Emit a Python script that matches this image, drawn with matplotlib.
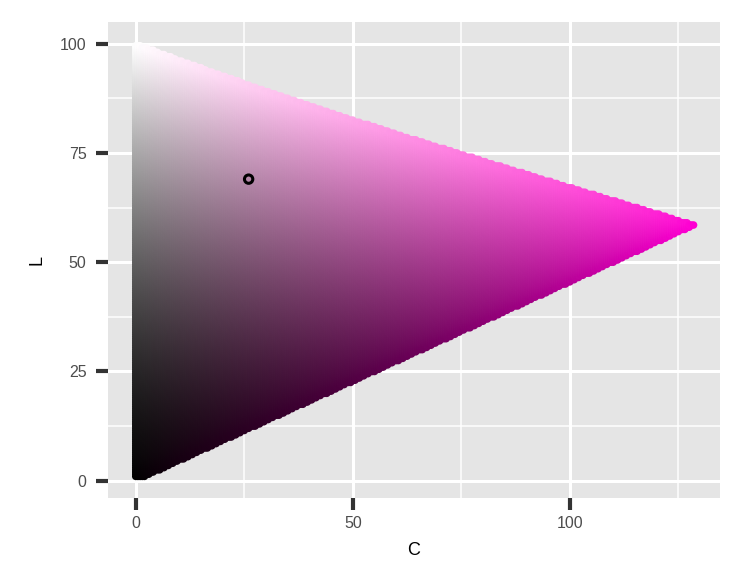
import numpy as np
import matplotlib
matplotlib.use("Agg")
import matplotlib.pyplot as plt

# ---- data ----
hue = 320.0                      # fixed HCL hue of the slice
lum_range = [1, 100]             # luminance grid range
chroma_range = [0, 135]          # chroma grid range
grid_step = 0.5
sel_C = [26]                     # selected colour
sel_L = [69]
x_ticks = [0, 50, 100]
y_ticks = [0, 25, 50, 75, 100]
x_minor = [25, 75, 125]
y_minor = [12.5, 37.5, 62.5, 87.5]
display_gamma = 1.3              # the reference renders mid-tones darker


def hcl_to_rgb(L, C, H):
    L = np.asarray(L, float); C = np.asarray(C, float)
    h = np.deg2rad(H)
    u = C * np.cos(h); v = C * np.sin(h)
    Xn, Yn, Zn = 95.047, 100.0, 108.883
    un = 4 * Xn / (Xn + 15 * Yn + 3 * Zn)
    vn = 9 * Yn / (Xn + 15 * Yn + 3 * Zn)
    Y = np.where(L > 8, Yn * ((L + 16) / 116) ** 3, Yn * L / 903.2963)
    up = u / (13 * L) + un
    vp = v / (13 * L) + vn
    X = 9.0 * Y * up / (4 * vp)
    Z = -X / 3 - 5 * Y + 3 * Y / vp
    X, Y, Z = X / 100, Y / 100, Z / 100
    r = 3.240479 * X - 1.537150 * Y - 0.498535 * Z
    g = -0.969256 * X + 1.875992 * Y + 0.041556 * Z
    b = 0.055648 * X - 0.204043 * Y + 1.057311 * Z
    return np.stack([r, g, b], axis=-1)


def gamma(c):
    c = np.clip(c, 0, 1)
    return np.where(c <= 0.0031308, 12.92 * c, 1.055 * c ** (1 / 2.4) - 0.055)


Lg, Cg = np.meshgrid(np.arange(lum_range[0], lum_range[1] + 1e-9, grid_step),
                     np.arange(chroma_range[0], chroma_range[1] + 1e-9, grid_step))
Lg = Lg.ravel(); Cg = Cg.ravel()
lin = hcl_to_rgb(Lg, Cg, hue)
tol = 1e-6
ok = np.all((lin >= -tol) & (lin <= 1 + tol), axis=1)
Lg, Cg, lin = Lg[ok], Cg[ok], lin[ok]
cols = np.clip(gamma(lin), 0, 1) ** display_gamma

fig = plt.figure(figsize=(7.5, 5.88), dpi=100)
ax = fig.add_axes([108 / 750, 1 - 498 / 588, (720 - 108) / 750, (498 - 22) / 588])
ax.set_facecolor("#E5E5E5")
for s in ax.spines.values():
    s.set_visible(False)

for xm in x_minor:
    ax.axvline(xm, color="white", lw=1.1, zorder=0)
for ym in y_minor:
    ax.axhline(ym, color="white", lw=1.1, zorder=0)
for xt in x_ticks:
    ax.axvline(xt, color="white", lw=2.2, zorder=0)
for yt in y_ticks:
    ax.axhline(yt, color="white", lw=2.2, zorder=0)

ax.scatter(Cg, Lg, c=cols, s=30, linewidths=0, marker="o", rasterized=True, zorder=2)

ax.scatter(sel_C, sel_L, s=36, facecolors="none", edgecolors="black", linewidths=2.2, zorder=3)

ax.set_xlim(-6.4, 134.6)
ax.set_ylim(-3.95, 104.95)
ax.set_xticks(x_ticks)
ax.set_yticks(y_ticks)
ax.set_xticklabels([str(t) for t in x_ticks])
ax.set_yticklabels([str(t) for t in y_ticks])
ax.tick_params(axis="both", length=8.5, width=3, color="#333333",
               labelsize=11.5, labelcolor="#4D4D4D")
ax.tick_params(axis="x", pad=4.5)
ax.tick_params(axis="y", pad=7)
for lab in ax.get_xticklabels() + ax.get_yticklabels():
    lab.set_family("Liberation Sans")

ax.set_xlabel("C", fontsize=13, family="Liberation Sans", color="black", labelpad=8)
ax.set_ylabel("L", fontsize=13, family="Liberation Sans", color="black", labelpad=10)

fig.savefig("out.png", dpi=100, facecolor="white")
